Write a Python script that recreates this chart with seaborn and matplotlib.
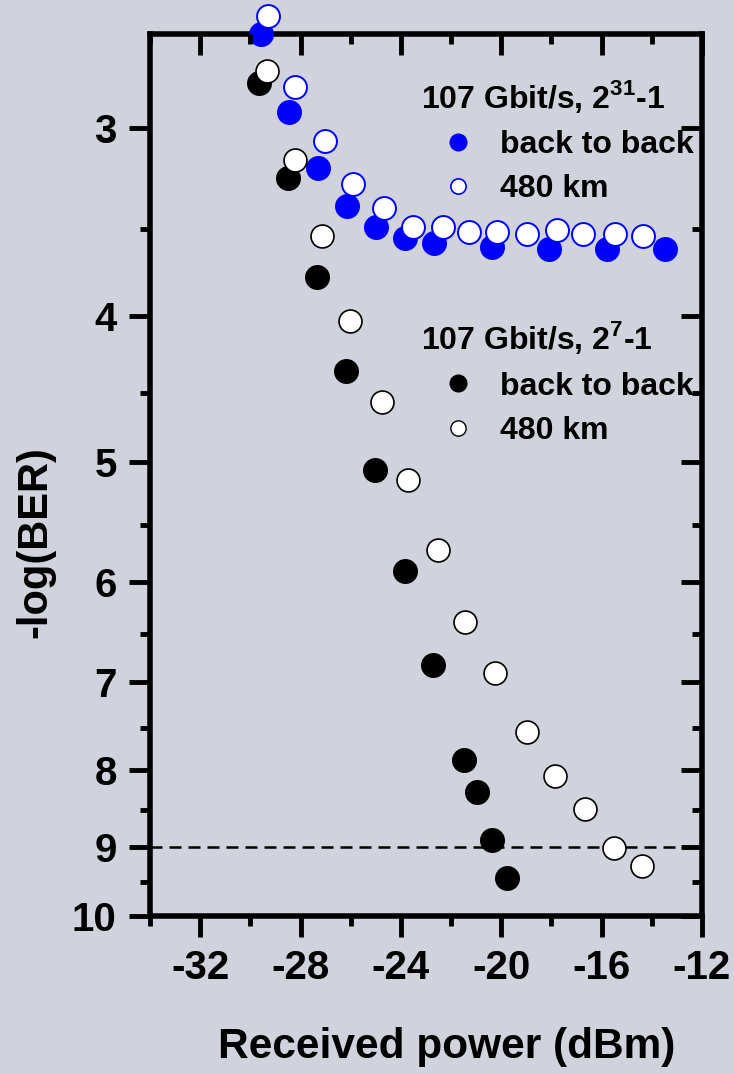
import numpy as np
import pandas as pd
import seaborn as sns
import matplotlib.pyplot as plt
from matplotlib.lines import Line2D
from matplotlib.ticker import FixedLocator, NullFormatter, FixedFormatter

# received power (dBm) and -log(BER)
pw_b2b_31 = [-29.59, -28.45, -27.32, -26.16, -24.98, -23.82, -22.68, -20.38, -18.09, -15.77, -13.47]
ber_b2b_31 = [2.60, 2.93, 3.19, 3.38, 3.49, 3.55, 3.58, 3.60, 3.61, 3.61, 3.61]
pw_480_31 = [-29.31, -28.23, -27.03, -25.90, -24.67, -23.51, -22.33, -21.27, -20.18, -18.99,
             -17.77, -16.73, -15.47, -14.34]
ber_480_31 = [2.53, 2.82, 3.06, 3.27, 3.39, 3.49, 3.49, 3.52, 3.52, 3.53, 3.51, 3.53, 3.53, 3.54]
pw_b2b_7 = [-29.66, -28.49, -27.36, -26.20, -25.03, -23.84, -22.73, -21.50, -20.97, -20.38, -19.78]
ber_b2b_7 = [2.80, 3.24, 3.77, 4.35, 5.06, 5.90, 6.82, 7.88, 8.28, 8.91, 9.43]
pw_480_7 = [-29.35, -28.23, -27.14, -26.03, -24.75, -23.71, -22.53, -21.43, -20.25, -18.97,
            -17.87, -16.67, -15.52, -14.38]
ber_480_7 = [2.75, 3.15, 3.54, 4.03, 4.56, 5.14, 5.72, 6.38, 6.90, 7.55, 8.08, 8.49, 9.02, 9.27]

ber_limit = 9
x_major = [-32, -28, -24, -20, -16, -12]
x_minor = [-34, -30, -26, -22, -18, -14]
y_major = [3, 4, 5, 6, 7, 8, 9, 10]
y_minor = [3.5, 4.5, 5.5, 6.5, 7.5, 8.5, 9.5]

bg = "#d0d3db"
sns.set_style("ticks")
plt.rcParams["font.family"] = ["Liberation Sans", "DejaVu Sans"]
plt.rcParams["font.weight"] = "bold"
plt.rcParams["mathtext.fontset"] = "custom"
plt.rcParams["mathtext.bf"] = "Liberation Sans:bold"
plt.rcParams["mathtext.rm"] = "Liberation Sans:bold"
for k in ["text.color", "axes.labelcolor", "xtick.color", "ytick.color", "axes.edgecolor"]:
    plt.rcParams[k] = "black"

fig = plt.figure(figsize=(7.34, 10.74), dpi=100, facecolor=bg)
ax = fig.add_axes([150 / 734, 158 / 1074, 552 / 734, 882 / 1074])
ax.set_facecolor(bg)

ax.axhline(ber_limit, color="black", lw=1.8, ls=(0, (4.8, 2.8)), zorder=3)

big = 324
opn = 272
sns.scatterplot(x=pw_b2b_7, y=ber_b2b_7, ax=ax, color="black", s=big, linewidth=0,
                marker="o", clip_on=False, zorder=5)
sns.scatterplot(x=pw_480_7, y=ber_480_7, ax=ax, color="white", edgecolor="black", s=opn,
                linewidth=1.2, marker="o", clip_on=False, zorder=6)
sns.scatterplot(x=pw_b2b_31, y=ber_b2b_31, ax=ax, color="blue", s=big, linewidth=0,
                marker="o", clip_on=False, zorder=5)
sns.scatterplot(x=pw_480_31, y=ber_480_31, ax=ax, color="white", edgecolor="blue", s=opn,
                linewidth=1.4, marker="o", clip_on=False, zorder=6)

ax.set_yscale("log")
ax.set_xlim(-34, -12)
ax.set_ylim(10, 2.6)
ax.xaxis.set_major_locator(FixedLocator(x_major))
ax.xaxis.set_minor_locator(FixedLocator(x_minor))
ax.xaxis.set_major_formatter(FixedFormatter([str(v) for v in x_major]))
ax.yaxis.set_major_locator(FixedLocator(y_major))
ax.yaxis.set_minor_locator(FixedLocator(y_minor))
ax.yaxis.set_major_formatter(FixedFormatter([str(v) for v in y_major]))
ax.yaxis.set_minor_formatter(NullFormatter())
ax.tick_params(which="major", direction="out", length=15, width=3.5, labelsize=29, pad=9,
               color="black", labelcolor="black")
ax.tick_params(which="minor", direction="out", length=7, width=3.5, color="black")
for s in ax.spines.values():
    s.set_linewidth(4)
    s.set_color("black")
    s.set_visible(True)

ax.set_xlabel("Received power (dBm)", fontsize=30.5, fontweight="bold", color="black")
ax.set_ylabel("-log(BER)", fontsize=30, fontweight="bold", color="black")
ax.xaxis.set_label_coords(0.538, -0.126)
ax.xaxis.label.set_va("top")
ax.yaxis.set_label_coords(-0.172, 0.424)

# inward ticks on the right and top
axr = ax.twinx()
axr.set_yscale("log")
axr.set_ylim(ax.get_ylim())
axr.yaxis.set_major_locator(FixedLocator(y_major))
axr.yaxis.set_minor_locator(FixedLocator(y_minor))
axr.yaxis.set_major_formatter(NullFormatter())
axr.yaxis.set_minor_formatter(NullFormatter())
axr.tick_params(axis="y", which="major", direction="in", length=15, width=3.5, color="black")
axr.tick_params(axis="y", which="minor", direction="in", length=7, width=3.5, color="black")
axt = ax.twiny()
axt.set_xlim(ax.get_xlim())
axt.xaxis.set_major_locator(FixedLocator(x_major))
axt.xaxis.set_minor_locator(FixedLocator(x_minor))
axt.xaxis.set_major_formatter(NullFormatter())
axt.tick_params(axis="x", which="major", direction="in", length=15, width=3.5, color="black")
axt.tick_params(axis="x", which="minor", direction="in", length=7, width=3.5, color="black")
for a in (axr, axt):
    for s in a.spines.values():
        s.set_visible(False)

# legends
leg_kw = dict(loc="center left", frameon=False, fontsize=23, handlelength=1.0,
              handletextpad=0.8, labelspacing=0.45, borderpad=0, borderaxespad=0,
              labelcolor="black")
h31 = [Line2D([], [], ls="none", marker="o", ms=12, mfc="blue", mec="blue"),
       Line2D([], [], ls="none", marker="o", ms=11, mfc="white", mec="blue", mew=1.2)]
leg1 = ax.legend(h31, ["back to back", "480 km"], bbox_to_anchor=(0.529, 0.849), **leg_kw)
ax.add_artist(leg1)
h7 = [Line2D([], [], ls="none", marker="o", ms=12, mfc="black", mec="black"),
      Line2D([], [], ls="none", marker="o", ms=11, mfc="white", mec="black", mew=1.0)]
leg2 = ax.legend(h7, ["back to back", "480 km"], bbox_to_anchor=(0.529, 0.575), **leg_kw)
ax.text(0.491, 0.916, r"107 Gbit/s, 2$^{\mathbf{31}}$-1", transform=ax.transAxes,
        fontsize=23, ha="left", va="baseline", color="black")
ax.text(0.491, 0.643, r"107 Gbit/s, 2$^{\mathbf{7}}$-1", transform=ax.transAxes,
        fontsize=23, ha="left", va="baseline", color="black")

fig.savefig("out.png", dpi=100, facecolor=bg)
